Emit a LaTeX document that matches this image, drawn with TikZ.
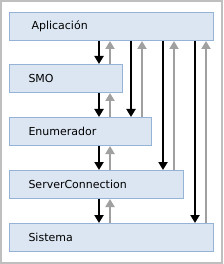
\documentclass[tikz,border=0pt]{standalone}
\usepackage{fontspec}
\setmainfont{DejaVu Sans}
\usetikzlibrary{arrows.meta}
\definecolor{boxfill}{HTML}{DCE6F2}
\definecolor{boxline}{HTML}{95B3D7}
\definecolor{upgray}{HTML}{A0A0A0}
\begin{document}
\begin{tikzpicture}[x=1pt, y=-1pt, every node/.style={font=\fontsize{11}{13}\selectfont},
	layer/.style={draw=boxline, fill=boxfill, line width=1pt, anchor=north west, minimum height=28pt, inner xsep=19pt, align=left},
	call/.style={-{Triangle[length=8pt, width=9pt]}, line width=2pt, black},
	reply/.style={-{Triangle[length=8pt, width=9pt]}, line width=2pt, upgray}]
	\draw[line width=2pt, gray!50] (1,1) rectangle (222,263);
	\node[layer, text width=160pt, inner xsep=22pt] (app) at (9,12) {Aplicación};
	\node[layer, text width=75pt] (smo) at (9,64) {SMO};
	\node[layer, text width=104pt] (enum) at (9,117) {Enumerador};
	\node[layer, text width=136pt] (conn) at (9,170) {ServerConnection};
	\node[layer, text width=166pt] (sys) at (9,223) {Sistema};
	% calls between neighbours
	\foreach \a/\b in {app/smo, smo/enum, enum/conn, conn/sys} {
		\draw[call] (\a.south -| 99,0) -- (\b.north -| 99,0);
		\draw[reply] (\b.north -| 110,0) -- (\a.south -| 110,0);
	}
	% calls from the application down
	\foreach \b/\x in {enum/131, conn/163, sys/195} {
		\draw[call] (app.south -| \x,0) -- (\b.north -| \x,0);
		\draw[reply] (\b.north -| \x+11,0) -- (app.south -| \x+11,0);
	}
\end{tikzpicture}
\end{document}
